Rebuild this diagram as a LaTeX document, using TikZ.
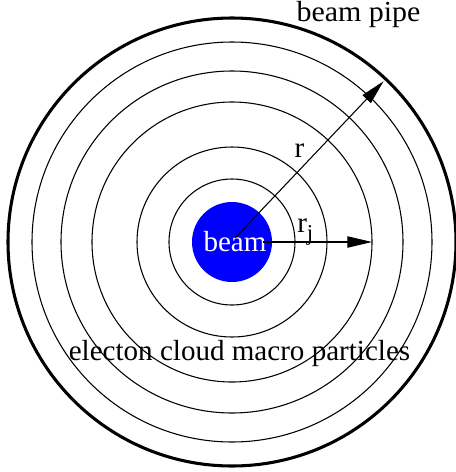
\documentclass[tikz,border=0pt]{standalone}
\usepackage{fontspec}
\setmainfont{Liberation Serif}
\usetikzlibrary{arrows.meta}
\definecolor{beamblue}{RGB}{0,0,255}
\begin{document}
\begin{tikzpicture}[x=0.75pt,y=-0.75pt,
  ring/.style={draw=black,line width=0.8pt},
  pipe/.style={draw=black,line width=2.3pt},
  lbl/.style={inner sep=0pt,font=\fontsize{21.8pt}{24pt}\selectfont},
  arr/.style={draw=black,line width=0.8pt,-{Triangle[length=18.5pt,width=8.5pt]}}]
\useasboundingbox (0,0) rectangle (455,472);
\coordinate (c) at (232,242);
\draw[pipe] (c) circle[radius=224];
\foreach \r in {63,95,140,171,200}{\draw[ring] (c) circle[radius=\r];}
\node[circle,fill=beamblue,minimum size=60pt,inner sep=0pt] (beam) at (c) {};
\node[lbl,text=white] (beamtxt) at (235,242) {beam};
\coordinate (rstart) at (235,238);
\coordinate (rtip) at (383.6,81.2);
\coordinate (rjstart) at (263,242);
\coordinate (rjtip) at (372,242);
\draw[arr] (rstart) -- (rtip);
\draw[arr] (rjstart) -- (rjtip);
\node[lbl,anchor=base] (rlab) at (299.5,157) {r};
\node[lbl,anchor=base west] (rjlab) at (297,232) {r\raisebox{-0.3em}{\fontsize{17pt}{18pt}\selectfont j}};
\node[lbl,anchor=base] (pipelab) at (358.5,21) {\scalebox{1.03}[1]{beam pipe}};
\node[lbl,anchor=base] (cloudlab) at (239.5,360) {electon cloud macro particles};
\end{tikzpicture}
\end{document}
